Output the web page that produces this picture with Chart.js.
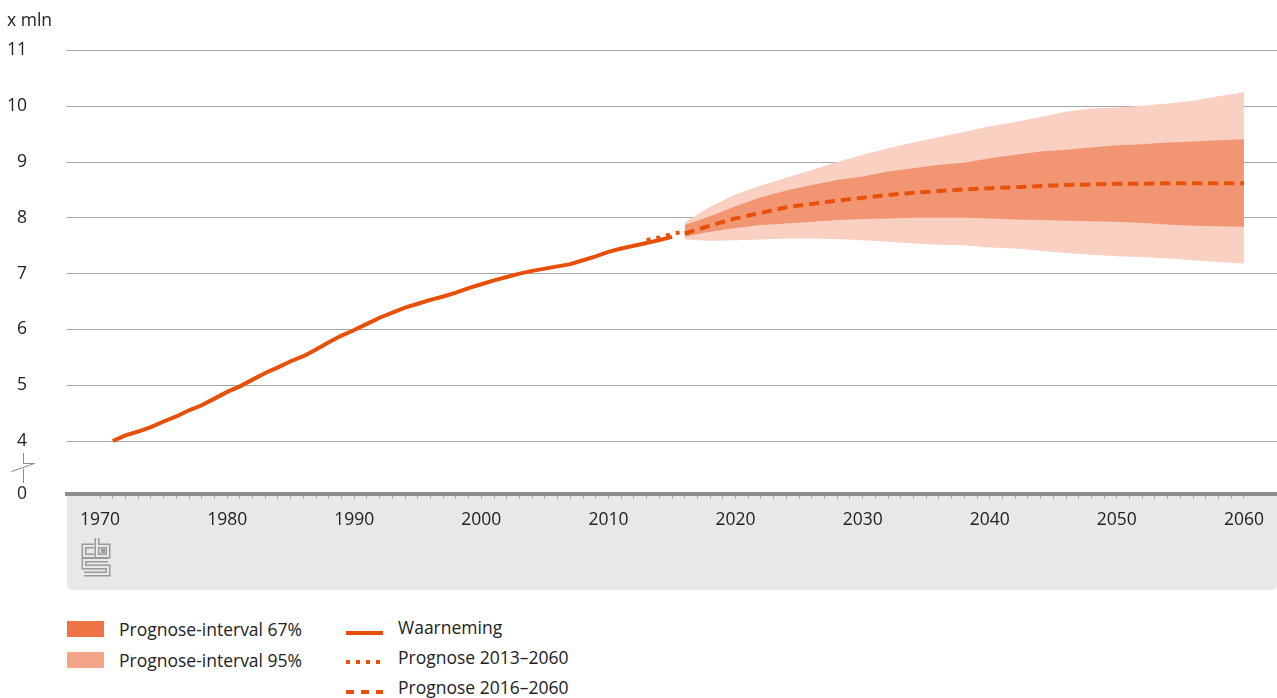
<!DOCTYPE html>
<html>
<head>
<meta charset="utf-8">
<script src="https://cdn.jsdelivr.net/npm/chart.js@4.4.1/dist/chart.umd.min.js"></script>
<style>
  body { margin: 0; background: #fff; font-family: "Open Sans", sans-serif; color: #222; }
  #wrap { position: relative; width: 1277px; height: 698px; }
  #myChart { position: absolute; left: 0; top: 0; }
  .txt { position: absolute; font-size: 17.5px; line-height: 22px; white-space: nowrap; }
  .sw { position: absolute; }
</style>
</head>
<body>
<div id="wrap">
  <canvas id="myChart" width="1277" height="590"></canvas>
  <div class="txt" style="left:7px; top:8px;">x mln</div>

  <div class="sw" style="left:67px; top:621px; width:37px; height:16px; background:#ee7446;"></div>
  <div class="txt" style="left:119px; top:618px;">Prognose-interval 67%</div>
  <div class="sw" style="left:67px; top:652px; width:37px; height:16px; background:#f4a588;"></div>
  <div class="txt" style="left:119px; top:649px;">Prognose-interval 95%</div>

  <svg class="sw" style="left:346px; top:625px;" width="40" height="70">
    <line x1="0" y1="8" x2="37" y2="8" stroke="#e8500a" stroke-width="4"/>
    <line x1="0" y1="37" x2="37" y2="37" stroke="#e8500a" stroke-width="4" stroke-dasharray="4 6"/>
    <line x1="0" y1="67" x2="37" y2="67" stroke="#e8500a" stroke-width="4" stroke-dasharray="8 7"/>
  </svg>
  <div class="txt" style="left:398px; top:616px;">Waarneming</div>
  <div class="txt" style="left:398px; top:646px;">Prognose 2013–2060</div>
  <div class="txt" style="left:398px; top:676px;">Prognose 2016–2060</div>
</div>

<script>
// waarneming (observed households, x mln)
const obsYears = [1971, 1972, 1973, 1974, 1975, 1976, 1977, 1978, 1979, 1980,
  1981, 1982, 1983, 1984, 1985, 1986, 1987, 1988, 1989, 1990,
  1991, 1992, 1993, 1994, 1995, 1996, 1997, 1998, 1999, 2000,
  2001, 2002, 2003, 2004, 2005, 2006, 2007, 2008, 2009, 2010,
  2011, 2012, 2013, 2014, 2015]
const obsValues = [4.00, 4.10, 4.17, 4.25, 4.35, 4.44, 4.55, 4.64, 4.76, 4.88,
  4.98, 5.10, 5.22, 5.32, 5.43, 5.52, 5.64, 5.77, 5.89, 5.99,
  6.10, 6.21, 6.30, 6.39, 6.46, 6.53, 6.59, 6.66, 6.74, 6.81,
  6.88, 6.94, 7.00, 7.05, 7.09, 7.13, 7.17, 7.24, 7.31, 7.39,
  7.45, 7.50, 7.55, 7.60, 7.66]

// prognose 2013-2060 (only the visible start)
const prog13Years = [2013, 2014, 2015, 2016]
const prog13Values = [7.60, 7.65, 7.71, 7.76]

// prognose 2016-2060 and intervals
const progYears = [2016, 2018, 2020, 2022, 2024, 2026, 2028, 2030, 2032, 2034, 2036, 2038,
  2040, 2042, 2044, 2046, 2048, 2050, 2052, 2054, 2056, 2058, 2060]
const prog16Values = [7.72, 7.86, 7.99, 8.09, 8.19, 8.25, 8.31, 8.36, 8.41, 8.45, 8.48, 8.51,
  8.53, 8.55, 8.57, 8.59, 8.60, 8.61, 8.61, 8.62, 8.62, 8.62, 8.62]
const upper67 = [7.87, 8.03, 8.21, 8.37, 8.49, 8.59, 8.68, 8.74, 8.83, 8.89, 8.95, 8.99,
  9.07, 9.13, 9.19, 9.22, 9.26, 9.30, 9.32, 9.35, 9.37, 9.39, 9.41]
const lower67 = [7.66, 7.75, 7.82, 7.87, 7.90, 7.93, 7.96, 7.98, 7.99, 8.00, 8.00, 8.00,
  7.99, 7.97, 7.96, 7.95, 7.94, 7.93, 7.91, 7.88, 7.86, 7.85, 7.84]
const upper95 = [7.92, 8.20, 8.42, 8.58, 8.72, 8.86, 9.00, 9.13, 9.25, 9.35, 9.45, 9.54,
  9.64, 9.72, 9.81, 9.90, 9.96, 9.98, 10.01, 10.05, 10.10, 10.18, 10.25]
const lower95 = [7.61, 7.59, 7.60, 7.61, 7.63, 7.63, 7.62, 7.60, 7.57, 7.54, 7.52, 7.51,
  7.47, 7.45, 7.41, 7.37, 7.34, 7.31, 7.30, 7.27, 7.24, 7.21, 7.18]

// y ticks: 0 sits at the axis break, then 4..11
const yTicks = [0, 4, 5, 6, 7, 8, 9, 10, 11]
const xLabelYears = [1970, 1980, 1990, 2000, 2010, 2020, 2030, 2040, 2050, 2060]
const xFirst = 1970, xLast = 2060

const Y_BREAK = 3.05 // where "0" is drawn on the compressed axis
const ORANGE = "#e8500a"
const FONT = { family: "Open Sans", size: 17.5 }

const pts = (xs, ys) => xs.map((x, i) => ({ x: x, y: ys[i] }))

const decor = {
  id: "decor",
  beforeDraw(chart) {
    const ctx = chart.ctx
    const xs = chart.scales.x
    ctx.save()
    ctx.fillStyle = "#e8e8e8"
    ctx.beginPath()
    ctx.roundRect(xs.left, xs.top, xs.right - xs.left, xs.bottom - xs.top, [0, 0, 5, 5])
    ctx.fill()
    ctx.restore()
  },
  afterDraw(chart) {
    const ctx = chart.ctx
    const ys = chart.scales.y
    const y4 = ys.getPixelForValue(4)
    const y0 = ys.getPixelForValue(Y_BREAK)
    const m = (y4 + y0) / 2
    ctx.save()
    // axis break mark
    ctx.strokeStyle = "#8a8a8a"
    ctx.lineWidth = 1
    ctx.beginPath()
    ctx.moveTo(23.5, y4 + 12)
    ctx.lineTo(23.5, m - 4)
    ctx.lineTo(34.5, m - 4)
    ctx.lineTo(11.5, m + 4)
    ctx.moveTo(23.5, m + 1)
    ctx.lineTo(23.5, y0 - 11)
    ctx.stroke()

    // cbs logo
    const lx = 84, ly = 538
    const shape = c => {
      c.beginPath()
      c.moveTo(lx + 10, ly + 8); c.lineTo(lx, ly + 8); c.lineTo(lx, ly + 18); c.lineTo(lx + 10, ly + 18)
      c.moveTo(lx + 13, ly); c.lineTo(lx + 13, ly + 18); c.lineTo(lx + 24, ly + 18); c.lineTo(lx + 24, ly + 8); c.lineTo(lx + 13, ly + 8)
      c.moveTo(lx + 24, ly + 22); c.lineTo(lx, ly + 22); c.lineTo(lx, ly + 29); c.lineTo(lx + 24, ly + 29)
      c.lineTo(lx + 24, ly + 36); c.lineTo(lx, ly + 36)
    }
    ctx.lineJoin = "miter"
    ctx.strokeStyle = "#9a9a9a"
    ctx.lineWidth = 5
    shape(ctx); ctx.stroke()
    ctx.strokeStyle = "#e8e8e8"
    ctx.lineWidth = 2
    shape(ctx); ctx.stroke()
    ctx.fillStyle = "#9a9a9a"
    ctx.fillRect(lx + 17, ly + 11, 4, 4)
    ctx.restore()
  },
}

const lineDs = (label, data, dash, order) => ({
  label: label,
  data: data,
  borderColor: ORANGE,
  borderWidth: 4,
  borderDash: dash,
  borderCapStyle: "butt",
  pointRadius: 0,
  fill: false,
  tension: 0,
  order: order,
})

const bandDs = (data, color, fill, order) => ({
  data: data,
  borderWidth: 0,
  borderColor: "rgba(0,0,0,0)",
  backgroundColor: color,
  pointRadius: 0,
  fill: fill,
  tension: 0,
  order: order,
})

new Chart(document.getElementById("myChart"), {
  type: "line",
  data: {
    datasets: [
      lineDs("Waarneming", pts(obsYears, obsValues), [], 0),
      lineDs("Prognose 2013–2060", pts(prog13Years, prog13Values), [4, 6], 0),
      lineDs("Prognose 2016–2060", pts(progYears, prog16Values), [10, 6], 0),
      bandDs(pts(progYears, upper67), "#f29572", "+1", 1),
      bandDs(pts(progYears, lower67), "#f29572", false, 1),
      bandDs(pts(progYears, upper95), "#f9d0c2", "+1", 2),
      bandDs(pts(progYears, lower95), "#f9d0c2", false, 2),
    ],
  },
  options: {
    responsive: false,
    animation: false,
    layout: { padding: { top: 50, right: 0, left: 0, bottom: 0 } },
    plugins: { legend: { display: false }, tooltip: { enabled: false } },
    scales: {
      x: {
        type: "linear",
        min: 1967.4,
        max: 2062.6,
        afterFit: s => { s.height = 96 },
        afterBuildTicks: s => {
          const t = []
          for (let yr = xFirst; yr <= xLast; yr++) t.push({ value: yr })
          s.ticks = t
        },
        border: { display: true, color: "#8c8c8c", width: 4 },
        grid: { drawOnChartArea: false, drawTicks: true, tickLength: 5, color: "#a8a8a8" },
        ticks: {
          autoSkip: false,
          maxRotation: 0,
          minRotation: 0,
          padding: 11,
          color: "#222",
          font: FONT,
          callback: v => {
            const yr = Math.round(v)
            return xLabelYears.indexOf(yr) >= 0 ? String(yr) : ""
          },
        },
      },
      y: {
        min: Y_BREAK,
        max: 11,
        afterFit: s => { s.width = 67 },
        afterBuildTicks: s => {
          s.ticks = yTicks.map(v => ({ value: v === 0 ? Y_BREAK : v }))
        },
        border: { display: false },
        grid: {
          drawTicks: false,
          lineWidth: 1,
          color: c => (c.tick && c.tick.value < 4 ? "rgba(0,0,0,0)" : "#a6a6a6"),
        },
        ticks: {
          padding: 40,
          color: "#222",
          font: FONT,
          callback: v => (v === Y_BREAK ? "0" : String(v)),
        },
      },
    },
  },
  plugins: [decor],
})
</script>
</body>
</html>
